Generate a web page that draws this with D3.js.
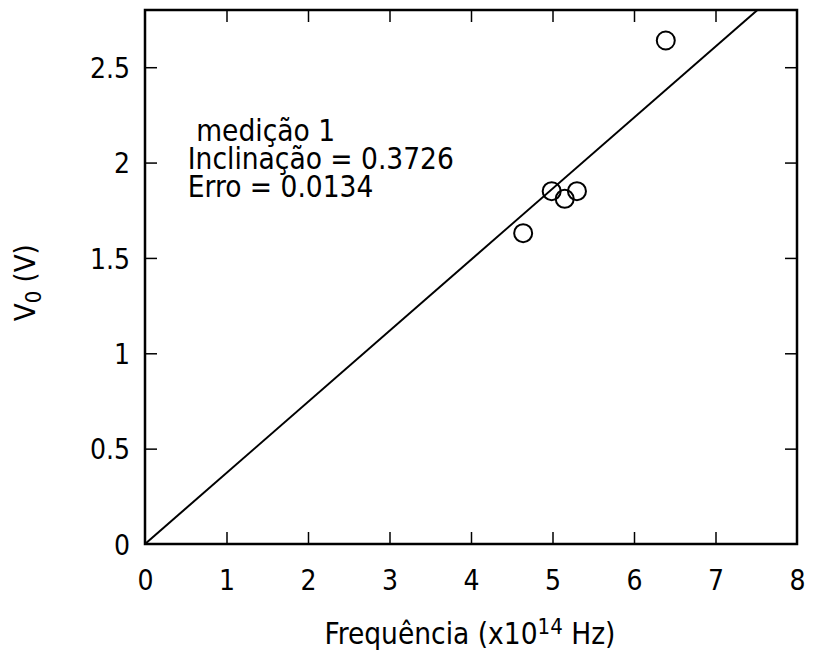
<!DOCTYPE html>
<html>
<head>
<meta charset="utf-8">
<script src="https://cdn.jsdelivr.net/npm/d3@7"></script>
<style>
  body { margin: 0; background: #fff; }
  text { font-family: "DejaVu Sans Condensed", "DejaVu Sans", Verdana, sans-serif; font-stretch: condensed; fill: #000; }
</style>
</head>
<body>
<div id="chart"></div>
<script>
"use strict";

// measured points (frequency x1e14 Hz, stopping voltage V)
var freq = [4.64, 4.99, 5.15, 5.30, 6.39];
var volts = [1.63, 1.85, 1.81, 1.85, 2.64];
var slope = 0.3726;
var xTicks = [0, 1, 2, 3, 4, 5, 6, 7, 8];
var yTicks = [0, 0.5, 1, 1.5, 2, 2.5];
var notes = [" medição 1", "Inclinação = 0.3726", "Erro = 0.0134"];

var W = 813, H = 653;
var margin = { top: 10, right: 16, bottom: 109, left: 145 };
var width = W - margin.left - margin.right;
var height = H - margin.top - margin.bottom;

var x = d3.scaleLinear().domain([0, 8]).range([0, width]);
var y = d3.scaleLinear().domain([0, 2.8]).range([height, 0]);

var svg = d3.select("#chart").append("svg")
  .attr("width", W).attr("height", H)
  .append("g")
  .attr("transform", "translate(" + margin.left + "," + margin.top + ")");

var fs = 28;
var tickLen = 12;

// inward ticks on all four sides
function ticksOn(axis, t) {
  var g = svg.append("g").call(axis.tickSize(t).tickPadding(0));
  g.select(".domain").remove();
  g.selectAll("line").attr("stroke", "#000").attr("stroke-width", 1.5);
  return g;
}

var xb = ticksOn(d3.axisBottom(x).tickValues(xTicks).tickFormat(d3.format("d")), -tickLen)
  .attr("transform", "translate(0," + height + ")");
xb.selectAll("line").filter(function (d) { return d === 0 || d === 8; }).remove();
xb.selectAll("text").attr("y", 46).attr("dy", null).style("font-size", fs + "px");

ticksOn(d3.axisTop(x).tickValues(xTicks.slice(1, -1)).tickFormat(""), -tickLen);

var yl = ticksOn(d3.axisLeft(y).tickValues(yTicks).tickFormat(function (d) { return String(d); }), -tickLen);
yl.selectAll("line").filter(function (d) { return d === 0; }).remove();
yl.selectAll("text").attr("x", -15).attr("dy", "0.36em").style("font-size", fs + "px");

ticksOn(d3.axisRight(y).tickValues(yTicks.slice(1)).tickFormat(""), -tickLen)
  .attr("transform", "translate(" + width + ",0)");

// frame
svg.append("rect")
  .attr("width", width).attr("height", height)
  .attr("fill", "none").attr("stroke", "#000").attr("stroke-width", 2.5);

// fitted line through origin
var xEnd = Math.min(8, 2.8 / slope);
var line = d3.line().x(function (d) { return x(d); }).y(function (d) { return y(slope * d); });
svg.append("path").datum([0, xEnd])
  .attr("d", line).attr("fill", "none").attr("stroke", "#000").attr("stroke-width", 2);

// data points
svg.selectAll("circle.pt").data(freq).enter().append("circle")
  .attr("class", "pt")
  .attr("cx", function (d) { return x(d); })
  .attr("cy", function (d, i) { return y(volts[i]); })
  .attr("r", 9)
  .attr("fill", "none").attr("stroke", "#000").attr("stroke-width", 2);

// annotation
svg.append("g").selectAll("text").data(notes).enter().append("text")
  .attr("x", x(0.525))
  .attr("y", function (d, i) { return 131 + i * 28; })
  .attr("xml:space", "preserve")
  .style("white-space", "pre")
  .style("font-size", "29.5px")
  .text(function (d) { return d; });

// axis titles
var xt2 = svg.append("text")
  .attr("x", width / 2 - 1).attr("y", height + 100)
  .attr("text-anchor", "middle").style("font-size", "29.5px");
xt2.append("tspan").text("Frequência (x10");
xt2.append("tspan").attr("dy", -10).style("font-size", "22px").text("14");
xt2.append("tspan").attr("dy", 10).text(" Hz)");

var yt = svg.append("text")
  .attr("transform", "translate(" + (-110) + "," + (y(1.37)) + ") rotate(-90)")
  .attr("text-anchor", "middle").style("font-size", "29px");
yt.append("tspan").text("V");
yt.append("tspan").attr("dy", 6).style("font-size", "22px").text("0");
yt.append("tspan").attr("dy", -6).text(" (V)");
</script>
</body>
</html>
